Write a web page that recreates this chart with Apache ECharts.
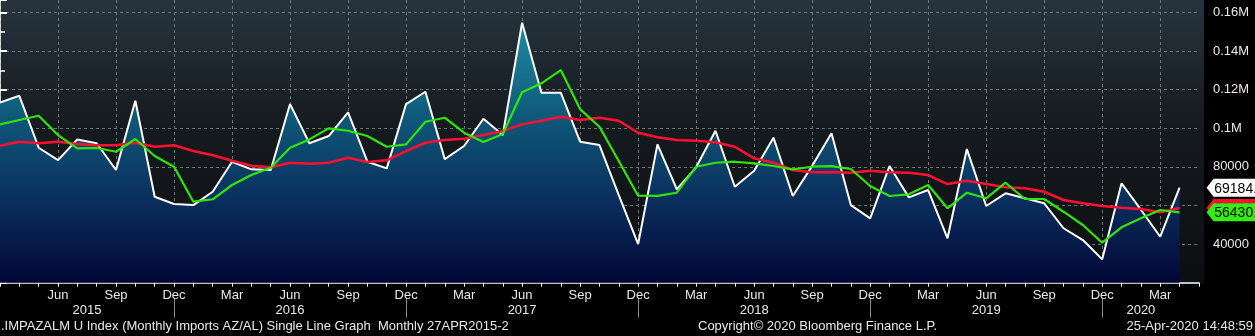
<!DOCTYPE html>
<html>
<head>
<meta charset="utf-8">
<script src="https://cdn.jsdelivr.net/npm/echarts@6.0.0/dist/echarts.min.js"></script>
<style>
html,body{margin:0;padding:0;background:#000;}
#chart{width:1255px;height:336px;}
</style>
</head>
<body>
<div id="chart"></div>
<script>
// Monthly categories (Mar 2015 .. May 2020; last one is empty padding)
const months = [
 'Mar 2015','Apr 2015','May 2015','Jun 2015','Jul 2015','Aug 2015','Sep 2015','Oct 2015','Nov 2015','Dec 2015',
 'Jan 2016','Feb 2016','Mar 2016','Apr 2016','May 2016','Jun 2016','Jul 2016','Aug 2016','Sep 2016','Oct 2016','Nov 2016','Dec 2016',
 'Jan 2017','Feb 2017','Mar 2017','Apr 2017','May 2017','Jun 2017','Jul 2017','Aug 2017','Sep 2017','Oct 2017','Nov 2017','Dec 2017',
 'Jan 2018','Feb 2018','Mar 2018','Apr 2018','May 2018','Jun 2018','Jul 2018','Aug 2018','Sep 2018','Oct 2018','Nov 2018','Dec 2018',
 'Jan 2019','Feb 2019','Mar 2019','Apr 2019','May 2019','Jun 2019','Jul 2019','Aug 2019','Sep 2019','Oct 2019','Nov 2019','Dec 2019',
 'Jan 2020','Feb 2020','Mar 2020','Apr 2020','May 2020'
];

// Monthly imports (white line, filled)
const imports = [113350,116800,89900,83500,94200,92200,78350,114200,64500,60750,
 60200,67100,82650,78700,78400,112500,92200,95950,108200,82650,79200,112500,
 118900,84000,90800,104900,96500,154600,118400,118400,93000,91300,65400,40000,
 91650,68400,79750,98700,69700,78000,95100,64900,80500,97350,60200,53350,
 80400,64200,68000,43000,89200,59700,66300,63700,61100,48200,42100,32100,
 71460,57800,43800,69184.0];

// Short moving average (green)
const maShort = [102000,104240,106460,96470,89600,89750,87800,94400,85600,80060,
 61940,63200,70600,75760,79540,89900,94200,99940,98700,95950,90400,91650,
 103360,105430,97660,92850,97000,118600,123240,130100,109900,100770,83000,65040,
 65000,66600,80060,82130,82650,81800,80420,78700,80060,80400,78870,70070,
 64900,65770,70580,58520,66600,63700,71775,63340,63340,56760,49870,40710,
 48680,53340,57640,56430.3];

// Long moving average (red)
const maLong = [90930,93000,92200,93000,91800,91150,91150,92500,90400,91150,
 88200,86000,83165,80580,79750,82130,81610,82130,84720,82490,83370,88200,
 92485,93880,94560,96470,98540,102000,103900,105950,104240,105430,103900,97660,
 95280,93880,93520,92700,90400,84400,82130,78350,77160,77300,76950,78000,
 77160,76950,75760,71100,72810,71100,69390,68875,67100,62820,61100,59710,
 58830,58160,56450,58680];

// Year band: labels and separator positions (category index of Dec each year)
const years = ['2015','2016','2017','2018','2019','2020'];
const yearSeparators = [9,21,33,45,57];

const footerLeft = '.IMPAZALM U Index (Monthly Imports AZ/AL) Single Line Graph  Monthly 27APR2015-2';
const footerMid = 'Copyright\u00A9 2020 Bloomberg Finance L.P.';
const footerRight = '25-Apr-2020 14:48:59';

const lastIdx = imports.length - 1;
const pad = arr => arr.concat(new Array(months.length - arr.length).fill('-'));

// year label positions: midpoints between separators / data bounds
const bounds = [0].concat(yearSeparators).concat([lastIdx]);
const yearPos = years.map((y, i) => (bounds[i] + bounds[i + 1]) / 2);

const FONT = '"Liberation Sans", Arial, sans-serif';
const TXT = '#ebe8e2';
const GRIDC = '#6c747c';

const chart = echarts.init(document.getElementById('chart'), null, {renderer: 'canvas'});

function markBox(value, color, textColor, z) {
  return {
    symbol: 'path://M0,9 L7,0 L64,0 L64,18 L7,18 Z',
    symbolSize: [64, 18],
    symbolKeepAspect: false,
    symbolOffset: [59, 0],
    silent: true,
    z: z,
    itemStyle: {color: color},
    label: {
      show: true, position: 'inside', color: textColor,
      fontSize: 14, fontFamily: FONT, offset: [1, 1],
      formatter: p => Number(p.value).toFixed(1)
    },
    data: [{coord: [months[lastIdx], value], value: value}]
  };
}

const option = {
  animation: false,
  backgroundColor: '#000',
  graphic: [{
    type: 'rect', z: -10, silent: true,
    shape: {x: 0, y: 0, width: 1204, height: 283},
    style: {
      fill: new echarts.graphic.LinearGradient(0, 0, 0, 1, [
        {offset: 0, color: '#27343e'},
        {offset: 0.45, color: '#151a1e'},
        {offset: 1, color: '#0c0f11'}
      ])
    }
  }],
  title: [
    {text: footerLeft, left: 1, top: 320, padding: 0,
     textStyle: {color: TXT, fontSize: 13, fontWeight: 'normal', fontFamily: FONT}},
    {text: footerMid, left: 698, top: 320, padding: 0,
     textStyle: {color: TXT, fontSize: 13, fontWeight: 'normal', fontFamily: FONT}},
    {text: footerRight, right: 2, top: 320, padding: 0,
     textStyle: {color: TXT, fontSize: 13, fontWeight: 'normal', fontFamily: FONT}}
  ],
  grid: {left: -2.07, right: 56.1, top: 0, bottom: 53.3, containLabel: false},
  xAxis: [{
    type: 'category',
    data: months,
    boundaryGap: false,
    axisLine: {show: true, lineStyle: {color: '#ffffff', width: 1.5}},
    axisTick: {show: true, length: 4, interval: 0, inside: false,
      lineStyle: {color: '#ffffff', width: 1}},
    axisLabel: {
      show: true, color: TXT, fontSize: 13, fontFamily: FONT, margin: 6,
      interval: (i) => i % 3 === 0 && i > 0 && i <= lastIdx,
      formatter: (v) => v.split(' ')[0]
    },
    splitLine: {show: true, interval: (i) => i % 3 === 0,
      lineStyle: {color: GRIDC, type: [3, 3], width: 1}}
  }, {
    type: 'value',
    min: 0, max: months.length - 1,
    position: 'bottom',
    offset: 15,
    axisLine: {show: false},
    splitLine: {show: false},
    axisTick: {show: true, length: 20, customValues: yearSeparators,
      lineStyle: {color: '#8a8a8a', width: 1}},
    axisLabel: {show: true, color: TXT, fontSize: 13, fontFamily: FONT, margin: 6,
      customValues: yearPos,
      formatter: (v) => years[yearPos.indexOf(v)] || ''}
  }],
  yAxis: {
    type: 'value',
    position: 'right',
    offset: 5,
    min: 20000, max: 166400, interval: 20000,
    axisLine: {show: true, lineStyle: {color: '#ffffff', width: 1.5}},
    axisTick: {show: true, length: 7, inside: false, lineStyle: {color: '#ffffff', width: 2}},
    minorTick: {show: true, splitNumber: 2, length: 5, lineStyle: {color: '#ffffff', width: 1.5}},
    axisLabel: {
      color: TXT, fontSize: 13, fontFamily: FONT, margin: 9,
      showMaxLabel: false,
      formatter: (v) => {
        if (v === 40000 || v === 80000) return String(v);
        if (v >= 100000 && v <= 160000) return (v / 1e6) + 'M';
        return '';
      }
    },
    splitLine: {show: true, showMinLine: false, showMaxLine: false,
      lineStyle: {color: GRIDC, type: [3, 3], width: 1}}
  },
  series: [{
    name: 'Imports', type: 'line', data: pad(imports),
    symbol: 'none', z: 2,
    lineStyle: {color: '#ffffff', width: 2},
    areaStyle: {
      origin: 'start', opacity: 1,
      color: new echarts.graphic.LinearGradient(0, 0, 0, 1, [
        {offset: 0, color: '#1e8ca4'},
        {offset: 0.35, color: '#0f5a7a'},
        {offset: 0.68, color: '#0a2f5e'},
        {offset: 1, color: '#020634'}
      ])
    },
    markPoint: markBox(imports[lastIdx], '#ffffff', '#000', 5)
  }, {
    name: 'Long MA', type: 'line', data: pad(maLong),
    symbol: 'none', z: 3,
    lineStyle: {color: '#ff1030', width: 2.5},
    markPoint: markBox(maLong[lastIdx], '#ff1030', '#000', 3)
  }, {
    name: 'Short MA', type: 'line', data: pad(maShort),
    symbol: 'none', z: 4,
    lineStyle: {color: '#2ee60a', width: 2.2},
    markPoint: markBox(maShort[lastIdx], '#33ee11', '#000', 4)
  }]
};
chart.setOption(option);
</script>
</body>
</html>
